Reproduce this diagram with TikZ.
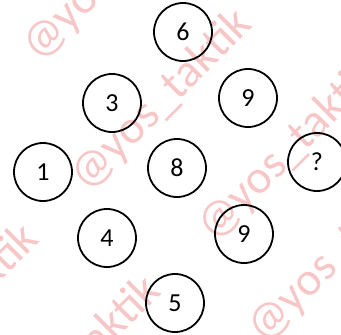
\documentclass[tikz,border=0pt]{standalone}
\usepackage{fontspec}
\setmainfont{Carlito}
\definecolor{wmpink}{RGB}{247,198,198}
\begin{document}
\begin{tikzpicture}[x=1pt,y=-1pt,
  num/.style={circle,draw=black,line width=1.8pt,minimum size=58pt,inner sep=0pt,
    font=\fontsize{26}{26}\selectfont},
  wm/.style={text=wmpink,rotate=45,anchor=base west,inner sep=0pt,
    font=\fontsize{47}{47}\selectfont}]
\useasboundingbox (0,0) rectangle (341,335);
\begin{scope}
\clip (0,0) rectangle (341,335);
\node[wm] (wa0) at (-186,289) {@yos\_taktik};
\node[wm] (wa1) at (39,63) {@yos\_taktik};
\node[wm] (wb0) at (-126,408) {@yos\_taktik};
\node[wm] (wb1) at (87,193) {@yos\_taktik};
\node[wm] (wc0) at (-4,460) {@yos\_taktik};
\node[wm] (wc1) at (214,243) {@yos\_taktik};
\node[wm] (wd1) at (264,345) {@yos\_taktik};
\end{scope}
\node[num] (n6) at (183,32) {6};
\node[num] (n3) at (112,103) {3};
\node[num] (n9a) at (248,98) {9};
\node[num] (n1) at (43,172) {1};
\node[num] (n8) at (177,168) {8};
\node[num] (nq) at (317,162) {?};
\node[num] (n4) at (107,238) {4};
\node[num] (n9b) at (244,234) {9};
\node[num] (n5) at (175,303) {5};
\end{tikzpicture}
\end{document}
